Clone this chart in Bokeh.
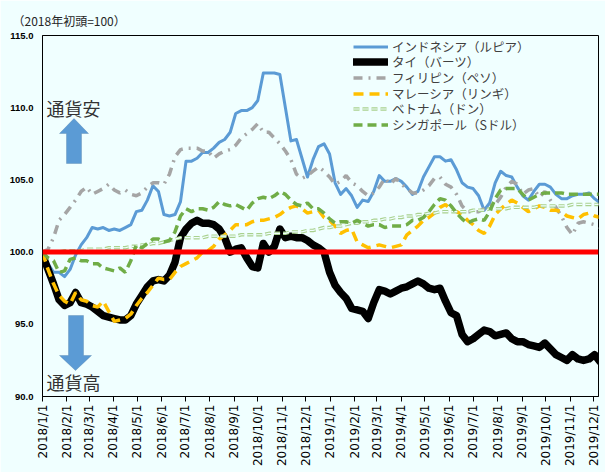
import pandas as pd
from bokeh.plotting import figure
from bokeh.models import (Range1d, FixedTicker, NumeralTickFormatter, Span, Label,
                          Legend, LegendItem, PolyAnnotation)
from bokeh.embed import file_html
from bokeh.resources import INLINE

# ---------------- data ----------------
week_start = "2018-01-01"
n_weeks = 102

indonesia = [
    100.0, 99.2, 98.6, 98.6, 98.3, 98.8, 99.8, 100.5, 101.0, 101.7,
    101.6, 101.7, 101.5, 101.6, 101.5, 101.7, 101.9, 102.8, 102.9, 103.6,
    104.6, 104.2, 102.6, 102.5, 102.6, 103.5, 106.3, 106.3, 106.5, 106.9,
    106.9, 107.2, 107.6, 107.8, 108.3, 109.6, 109.8, 109.8, 110.0, 110.5,
    112.4, 112.4, 112.4, 112.3, 110.0, 107.7, 107.8, 106.5, 105.2, 106.4,
    107.3, 107.5, 106.8, 104.8, 104.0, 104.4, 103.9, 103.1, 103.6, 103.5,
    104.2, 105.3, 104.9, 104.9, 105.1, 104.9, 104.5, 104.0, 104.2, 105.2,
    105.9, 106.6, 106.6, 106.3, 106.4, 105.7, 104.8, 104.5, 104.4, 103.9,
    102.9, 103.4, 104.8, 105.6, 105.3, 105.2, 104.5, 103.9, 103.6, 104.2,
    104.7, 104.7, 104.5, 104.0, 103.7, 103.7, 103.9, 104.0, 104.0, 104.1,
    103.7, 103.4]

thailand = [
    99.8, 98.8, 97.8, 96.7, 96.3, 96.5, 97.2, 96.5, 96.4, 96.2,
    95.9, 95.6, 95.5, 95.4, 95.3, 95.3, 95.6, 96.4, 97.0, 97.6,
    98.0, 98.1, 98.0, 98.4, 99.3, 101.0, 101.6, 102.0, 102.2, 102.0,
    102.0, 101.9, 101.6, 101.0, 100.0, 100.2, 100.3, 99.6, 99.0, 98.9,
    100.6, 100.0, 100.4, 101.6, 101.0, 101.1, 101.0, 101.0, 100.8, 100.5,
    100.3, 100.0, 98.6, 97.7, 97.2, 96.8, 96.1, 96.0, 95.9, 95.4,
    96.5, 97.4, 97.3, 97.1, 97.3, 97.5, 97.6, 97.8, 98.0, 97.8,
    97.5, 97.4, 97.5, 96.6, 95.8, 95.6, 94.3, 93.8, 94.0, 94.3,
    94.6, 94.5, 94.2, 94.3, 94.4, 94.0, 93.8, 93.8, 93.6, 93.5,
    93.4, 93.7, 93.3, 92.9, 92.7, 92.5, 92.9, 92.6, 92.5, 92.6,
    92.9, 92.4]

philippines = [
    100.0, 100.2, 101.0, 102.2, 102.6, 103.1, 103.6, 104.2, 104.5, 104.0,
    104.2, 104.4, 104.7, 104.3, 104.1, 104.3, 104.0, 103.9, 104.1, 104.5,
    104.8, 104.8, 104.7, 105.4, 106.6, 107.1, 107.2, 107.2, 107.2, 107.0,
    107.0, 106.5, 106.8, 107.0, 107.1, 107.4, 107.9, 108.2, 108.5, 108.9,
    108.3, 108.3, 107.9, 107.5, 107.0, 106.4, 105.4, 105.1, 105.3, 105.6,
    105.9, 105.6, 105.2, 104.7, 104.9, 105.3, 104.8, 104.6, 104.2, 103.9,
    104.1, 104.5, 105.1, 104.7, 105.1, 104.7, 104.4, 104.1, 104.1, 104.3,
    104.6, 105.1, 105.2, 104.7, 104.5, 104.0, 103.2, 102.8, 102.8, 102.8,
    103.0, 103.2, 103.3, 103.8, 104.5, 104.9, 104.7, 104.0, 104.3, 104.4,
    103.8, 104.2, 103.6, 103.1, 102.5, 101.7, 101.2, 102.0, 102.1, 102.0,
    101.9, 101.7]

malaysia = [
    100.0, 98.8, 97.8, 97.0, 96.6, 96.4, 97.2, 96.7, 96.6, 96.3,
    96.2, 96.6, 95.9, 95.2, 95.3, 95.4, 95.7, 96.3, 96.8, 97.2,
    97.7, 98.2, 98.1, 98.1, 98.6, 99.0, 99.2, 99.4, 99.6, 100.0,
    100.1, 100.4, 100.9, 101.2, 101.5, 101.9, 101.9, 101.9, 102.1, 102.2,
    102.2, 102.3, 102.4, 102.6, 102.9, 103.1, 103.2, 103.0, 102.7, 102.8,
    102.9, 102.4, 102.2, 101.8, 101.3, 101.5, 101.6, 100.7, 100.5, 100.3,
    100.4, 100.5, 100.4, 100.3, 100.4, 100.5, 101.2, 101.5, 101.8, 102.2,
    102.4, 102.7, 103.1, 103.3, 102.9, 102.8, 102.6, 102.2, 101.9, 101.5,
    101.3, 101.8, 102.6, 103.0, 103.3, 103.6, 103.4, 103.1, 102.8, 103.0,
    103.2, 103.1, 102.9, 102.9, 102.8, 102.5, 102.4, 102.3, 102.6, 102.7,
    102.5, 102.4]

vietnam = [
    100.0, 100.0, 100.0, 100.0, 100.1, 100.1,
    100.1, 100.1, 100.2, 100.2, 100.2, 100.2, 100.3, 100.3, 100.3, 100.3,
    100.4, 100.4, 100.5, 100.5, 100.6, 100.6, 100.7, 100.8, 100.9, 101.0,
    101.0, 101.0, 101.0, 101.0, 101.1, 101.1, 101.1, 101.1, 101.1, 101.1,
    101.2, 101.2, 101.2, 101.2, 101.2, 101.3, 101.3, 101.3, 101.3, 101.4,
    101.4, 101.4, 101.5, 101.5, 101.6, 101.7, 101.7, 101.8, 101.8, 101.9,
    102.0, 102.0, 102.1, 102.1, 102.2, 102.2, 102.3, 102.3, 102.4, 102.4,
    102.5, 102.5, 102.6, 102.6, 102.7, 102.7, 102.8, 102.8, 102.8, 102.8,
    102.8, 102.8, 102.9, 102.9, 102.9, 103.0, 103.0, 103.0, 103.0, 103.1,
    103.1, 103.1, 103.1, 103.1, 103.2, 103.2, 103.2, 103.2, 103.2, 103.2,
    103.3, 103.3, 103.3, 103.3, 103.3, 103.3]

singapore = [
    100.0, 99.6, 99.4, 98.6, 98.7, 99.5, 99.6, 99.4, 99.4, 99.2,
    99.2, 98.9, 98.8, 98.7, 98.9, 98.6, 99.4, 100.5, 100.3, 100.6,
    100.9, 100.9, 100.7, 100.8, 101.4, 102.5, 103.0, 102.8, 103.0, 103.0,
    102.9, 103.1, 103.5, 103.3, 103.2, 103.3, 103.1, 102.9, 103.4, 103.7,
    103.8, 103.7, 103.9, 104.2, 104.0, 103.6, 103.3, 103.2, 103.4, 103.0,
    103.0, 102.7, 102.3, 102.0, 102.1, 102.1, 102.0, 102.2, 102.0, 101.8,
    101.9, 101.9, 101.7, 101.8, 101.8, 101.8, 101.9, 102.2, 102.2, 102.4,
    102.8, 103.3, 103.7, 103.6, 103.2, 102.7, 102.3, 102.0, 102.2, 102.3,
    102.2, 102.8, 103.7, 104.3, 104.4, 104.4, 104.4, 104.0, 103.6, 103.8,
    104.0, 104.1, 104.1, 104.1, 104.1, 104.0, 104.0, 104.0, 104.0, 104.0,
    104.0, 104.0]

series_names = ["インドネシア（ルピア）", "タイ（バーツ）", "フィリピン（ペソ）",
                "マレーシア（リンギ）", "ベトナム（ドン）", "シンガポール（Sドル）"]

month_labels = ["2018/1/1", "2018/2/1", "2018/3/1", "2018/4/1", "2018/5/1", "2018/6/1",
                "2018/7/1", "2018/8/1", "2018/9/1", "2018/10/1", "2018/11/1", "2018/12/1",
                "2019/1/1", "2019/2/1", "2019/3/1", "2019/4/1", "2019/5/1", "2019/6/1",
                "2019/7/1", "2019/8/1", "2019/9/1", "2019/10/1", "2019/11/1", "2019/12/1"]
y_ticks = [90, 95, 100, 105, 110, 115]
base_level = 100
unit_note = "（2018年初頭=100）"
up_text = "通貨安"
down_text = "通貨高"

# ---------------- figure ----------------
dates = pd.date_range(week_start, periods=n_weeks, freq="7D")
BG = "#F0FFFF"
JP_FONT = "Noto Sans CJK JP"
FRAME_TOP, FRAME_BOTTOM = 35, 396

p = figure(width=605, height=472, x_axis_type="datetime", output_backend="svg",
           toolbar_location=None,
           x_range=Range1d(pd.Timestamp("2018-01-01"), pd.Timestamp("2019-12-07")),
           y_range=Range1d(90, 115),
           min_border_left=42, min_border_right=7, min_border_top=FRAME_TOP,
           min_border_bottom=472 - FRAME_BOTTOM)
p.background_fill_color = BG
p.border_fill_color = BG
p.outline_line_color = "black"
p.outline_line_width = 1
p.xgrid.visible = False
p.ygrid.visible = False

# unit note as the title, top-left
p.title.text = unit_note
p.title.align = "left"
p.title.offset = -30
p.title.standoff = 14
p.title.text_font = JP_FONT
p.title.text_font_size = "12px"
p.title.text_font_style = "normal"
p.title.text_color = "#262626"

# x axis
tick_ts = [pd.Timestamp(pd.to_datetime(s, format="%Y/%m/%d")) for s in month_labels]
tick_ms = [int(t.value // 10**6) for t in tick_ts]
p.xaxis.ticker = FixedTicker(ticks=tick_ms)
p.xaxis.major_label_overrides = {ms: lab for ms, lab in zip(tick_ms, month_labels)}
p.xaxis.major_label_orientation = 3.14159265 / 2
p.xaxis.major_label_text_font = "DejaVu Sans"
p.xaxis.major_label_text_font_size = "12px"
p.xaxis.major_label_text_color = "black"
p.xaxis.major_tick_out = 5
p.xaxis.major_tick_in = 0
p.xaxis.minor_tick_line_color = None
p.xaxis.major_label_standoff = 3
p.xaxis.axis_line_color = "black"
p.xaxis.major_tick_line_color = "black"

# y axis
p.yaxis.ticker = FixedTicker(ticks=y_ticks)
p.yaxis.formatter = NumeralTickFormatter(format="0.0")
p.yaxis.major_label_text_font = "Liberation Sans"
p.yaxis.major_label_text_font_size = "9.5px"
p.yaxis.major_label_text_font_style = "bold"
p.yaxis.major_label_text_color = "black"
p.yaxis.major_tick_out = 0
p.yaxis.major_tick_in = 0
p.yaxis.minor_tick_line_color = None
p.yaxis.major_label_standoff = 9
p.yaxis.axis_line_color = "black"

# lines
r_id = p.line(dates, indonesia, line_color="#5B9BD5", line_width=3, line_join="round")
r_th = p.line(dates, thailand, line_color="black", line_width=7.5, line_join="round", line_cap="round")
r_ph = p.line(dates, philippines, line_color="#A5A5A5", line_width=3.5, line_dash="9 6 2 6")
r_my = p.line(dates, malaysia, line_color="#FFC000", line_width=3.5, line_dash="10 6")
r_vn1 = p.line(dates, vietnam, line_color="#A9D18E", line_width=3.5, line_dash="6 3")
r_vn2 = p.line(dates, vietnam, line_color=BG, line_width=1.2, line_dash="6 3")
r_sg = p.line(dates, singapore, line_color="#70AD47", line_width=3.5, line_dash="9 5")

# base line at 100
p.add_layout(Span(location=base_level, dimension="width", line_color="#FF0000", line_width=5))

# legend: one single-row legend per series so that the row pitch matches
legend_renderers = [[r_id], [r_th], [r_ph], [r_my], [r_vn1, r_vn2], [r_sg]]
row1_center = 46      # image y of the first legend row
row_pitch = 15.6
row_half = 9.8        # half of the legend row height (text box of the CJK font)
for i, (name, rends) in enumerate(zip(series_names, legend_renderers)):
    center = row1_center + row_pitch * i
    leg = Legend(items=[LegendItem(label=name, renderers=rends)],
                 location=(311, FRAME_BOTTOM - center - row_half))
    leg.label_text_font = JP_FONT
    leg.label_text_font_size = "12.5px"
    leg.label_text_color = "#404040"
    leg.glyph_width = 35
    leg.glyph_height = 15
    leg.label_height = 15
    leg.padding = 0
    leg.margin = 0
    leg.label_standoff = 4
    leg.border_line_alpha = 0
    leg.background_fill_alpha = 0
    p.add_layout(leg)

# texts (screen units are measured from the frame's lower-left corner)
p.add_layout(Label(x=4, y=289, x_units="screen", y_units="screen", text=up_text,
                   text_font=JP_FONT, text_font_size="18px",
                   text_color="#333333", text_baseline="middle"))
p.add_layout(Label(x=4, y=15, x_units="screen", y_units="screen", text=down_text,
                   text_font=JP_FONT, text_font_size="18px",
                   text_color="#333333", text_baseline="middle"))

# arrows
up_xs = [31.5, 46, 39, 39, 24, 24, 17]
up_ys = [278, 263, 263, 233, 233, 263, 263]
dn_xs = [26, 41, 41, 49, 33, 17, 26]
dn_ys = [81, 81, 41, 41, 26, 41, 41]
for xs, ys in ((up_xs, up_ys), (dn_xs, dn_ys)):
    p.add_layout(PolyAnnotation(xs=xs, ys=ys, xs_units="screen", ys_units="screen",
                                fill_color="#5B9BD5", fill_alpha=1,
                                line_color="#41719C", line_width=1))

open("out.html", "w").write(file_html(p, INLINE))
